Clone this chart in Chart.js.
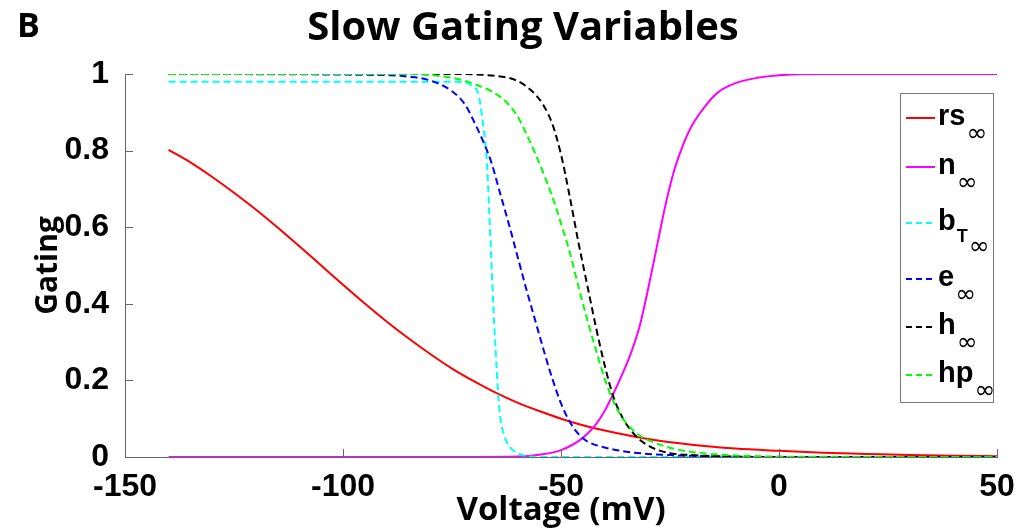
<!DOCTYPE html>
<html>
<head>
<meta charset="utf-8">
<script src="https://cdn.jsdelivr.net/npm/chart.js@4.4.1/dist/chart.umd.min.js"></script>
<style>
  html, body { margin: 0; padding: 0; background: #fff; }
  #wrap { width: 1024px; height: 531px; }
</style>
</head>
<body>
<div id="wrap"><canvas id="c" width="1024" height="531"></canvas></div>
<script>
// tick labels
var xTicks = [-150, -100, -50, 0, 50];
var yTicks = [0, 0.2, 0.4, 0.6, 0.8, 1];

// rs_inf (red, solid)
var rsV = [-140, -135, -130, -125, -120, -115, -110, -105, -100, -95, -90, -85, -80, -75, -70, -65, -60, -55, -50, -45, -40, -30, -20, -10, 0, 10, 20, 30, 40, 50];
var rsG = [0.802, 0.769, 0.731, 0.69, 0.646, 0.599, 0.55, 0.5, 0.45, 0.401, 0.354, 0.31, 0.269, 0.231, 0.198, 0.168, 0.142, 0.12, 0.1, 0.083, 0.069, 0.047, 0.032, 0.022, 0.016, 0.011, 0.008, 0.005, 0.003, 0.002];

// n_inf (magenta, solid)
var nV = [-140, -70, -60, -55, -50, -45, -42, -40, -38, -36, -34, -32, -30, -28, -26, -24, -22, -20, -17, -14, -10, -5, 0, 10, 50];
var nG = [0, 0, 0.001, 0.006, 0.018, 0.05, 0.085, 0.12, 0.165, 0.215, 0.27, 0.34, 0.44, 0.55, 0.66, 0.75, 0.815, 0.865, 0.915, 0.952, 0.976, 0.99, 0.997, 1, 1];

// bT_inf (cyan, dashed)
var bV = [-140, -75, -72, -70, -69, -68, -67, -66.5, -66, -65.5, -65, -64.5, -64, -63, -62, -61, -60, -58, -55, 50];
var bG = [0.98, 0.98, 0.978, 0.965, 0.95, 0.88, 0.77, 0.65, 0.52, 0.39, 0.28, 0.18, 0.11, 0.055, 0.03, 0.018, 0.01, 0.003, 0, 0];

// e_inf (blue, dashed)
var eV = [-140, -90, -85, -80, -75, -72, -70, -68, -66, -64, -62, -60, -58, -56, -54, -52, -50, -48, -46, -44, -40, -35, -30, -25, -20, -10, 0, 50];
var eG = [1, 0.997, 0.993, 0.983, 0.955, 0.92, 0.877, 0.828, 0.77, 0.69, 0.61, 0.525, 0.44, 0.36, 0.28, 0.205, 0.14, 0.092, 0.06, 0.041, 0.025, 0.014, 0.008, 0.005, 0.003, 0.001, 0, 0];

// h_inf (black, dashed)
var hV = [-140, -72, -68, -65, -62, -60, -58, -56, -54, -52, -50, -48, -46, -44, -42, -40, -38, -36, -34, -32, -30, -28, -25, -20, -10, 0, 50];
var hG = [1, 1, 0.998, 0.995, 0.99, 0.982, 0.968, 0.948, 0.918, 0.87, 0.79, 0.68, 0.56, 0.45, 0.34, 0.24, 0.158, 0.105, 0.07, 0.046, 0.03, 0.019, 0.01, 0.005, 0.001, 0, 0];

// hp_inf (green, dashed)
var hpV = [-140, -85, -80, -75, -72, -69, -66, -63, -60, -58, -56, -54, -52, -50, -48, -46, -44, -42, -40, -38, -36, -34, -32, -30, -28, -25, -20, -15, -10, 0, 50];
var hpG = [1, 1, 0.997, 0.99, 0.982, 0.97, 0.955, 0.932, 0.89, 0.845, 0.795, 0.74, 0.68, 0.61, 0.535, 0.445, 0.36, 0.28, 0.205, 0.145, 0.103, 0.076, 0.056, 0.044, 0.035, 0.024, 0.013, 0.007, 0.004, 0.001, 0];

var names = ['rs', 'n', 'b', 'e', 'h', 'hp'];
var subs = ['', '', 'T', '', '', ''];
var colors = ['#ff0000', '#ff00ff', '#00ffff', '#0000ff', '#000000', '#00ff00'];
var dashed = [false, false, true, true, true, true];

var volts = [rsV, nV, bV, eV, hV, hpV];
var gates = [rsG, nG, bG, eG, hG, hpG];

function pts(v, g) {
    return v.map(function (x, i) { return { x: x, y: g[i] }; });
}

var datasets = names.map(function (nm, i) {
    return {
        label: nm,
        data: pts(volts[i], gates[i]),
        borderColor: colors[i],
        borderWidth: 2,
        borderDash: dashed[i] ? [7, 4] : [],
        pointRadius: 0,
        fill: false,
        cubicInterpolationMode: 'monotone',
        order: names.length - i
    };
});

var tickFont = { family: 'Liberation Sans', size: 32, weight: 'bold' };

// inward ticks, the "B" panel letter, title and the legend box
var decor = {
    id: 'decor',
    afterDraw: function (chart) {
        var ctx = chart.ctx;
        var a = chart.chartArea;
        var xs = chart.scales.x, ys = chart.scales.y;
        ctx.save();
        ctx.strokeStyle = '#666';
        ctx.lineWidth = 1;
        ctx.beginPath();
        xTicks.forEach(function (t) {
            var px = Math.round(xs.getPixelForValue(t)) + 0.5;
            ctx.moveTo(px, a.bottom);
            ctx.lineTo(px, a.bottom - 8);
        });
        yTicks.forEach(function (t) {
            var py = Math.round(ys.getPixelForValue(t)) + 0.5;
            ctx.moveTo(a.left, py);
            ctx.lineTo(a.left + 8, py);
        });
        ctx.stroke();

        ctx.fillStyle = '#000';
        ctx.textBaseline = 'alphabetic';
        ctx.textAlign = 'left';
        ctx.font = 'bold 34px "Open Sans"';
        ctx.fillText('B', 17, 37);

        ctx.textAlign = 'center';
        ctx.font = 'bold 40px "Open Sans"';
        ctx.fillText('Slow Gating Variables', 523, 40);

        // legend
        var bx = 900, by = 93, bw = 93, bh = 309;
        ctx.fillStyle = '#fff';
        ctx.fillRect(bx, by, bw, bh);
        ctx.strokeStyle = '#777';
        ctx.lineWidth = 1;
        ctx.strokeRect(bx + 0.5, by + 0.5, bw, bh);

        var rowY = [118, 167, 223, 279, 327, 375];
        names.forEach(function (nm, i) {
            var y = rowY[i];
            ctx.strokeStyle = colors[i];
            ctx.lineWidth = 2;
            ctx.setLineDash(dashed[i] ? [6, 4] : []);
            ctx.beginPath();
            ctx.moveTo(906, y);
            ctx.lineTo(935, y);
            ctx.stroke();
            ctx.setLineDash([]);

            ctx.fillStyle = '#000';
            ctx.textAlign = 'left';
            ctx.font = 'bold 29px "Liberation Sans"';
            ctx.fillText(nm, 938, y + 7);
            var w = ctx.measureText(nm).width;
            var sx = 938 + w + 1;
            var sy = y + 23;
            if (subs[i]) {
                ctx.font = 'bold 18px "Liberation Sans"';
                ctx.fillText(subs[i], sx, y + 19);
                sx += ctx.measureText(subs[i]).width + 1;
                sy = y + 31;
            }
            ctx.font = '25px "DejaVu Sans"';
            ctx.fillText('\u221e', sx, sy);
        });
        ctx.restore();
    }
};

new Chart(document.getElementById('c').getContext('2d'), {
    type: 'line',
    data: { datasets: datasets },
    options: {
        responsive: false,
        animation: false,
        layout: { padding: { left: 0, right: 27, top: 74, bottom: 0 } },
        plugins: {
            legend: { display: false },
            tooltip: { enabled: false }
        },
        scales: {
            x: {
                type: 'linear',
                min: -150,
                max: 50,
                afterFit: function (s) { s.height = 74; },
                afterBuildTicks: function (s) {
                    s.ticks = xTicks.map(function (v) { return { value: v }; });
                },
                grid: { display: false },
                border: { display: true, color: '#666', width: 1 },
                ticks: {
                    color: '#000', font: tickFont, padding: 3, maxRotation: 0,
                    callback: function (v) { return String(v); }
                },
                title: {
                    display: true,
                    text: 'Voltage (mV)',
                    color: '#000',
                    font: { family: 'Open Sans', size: 33, weight: 'bold' },
                    padding: { top: 0, bottom: 1 }
                }
            },
            y: {
                type: 'linear',
                min: 0,
                max: 1,
                afterFit: function (s) { s.width = 125; },
                afterBuildTicks: function (s) {
                    s.ticks = yTicks.map(function (v) { return { value: v }; });
                },
                grid: { display: false },
                border: { display: true, color: '#666', width: 1 },
                ticks: {
                    color: '#000', font: tickFont, padding: 8,
                    callback: function (v) { return String(v); }
                },
                title: {
                    display: true,
                    text: 'Gating',
                    color: '#000',
                    font: { family: 'Open Sans', size: 30, weight: 'bold' },
                    padding: { top: 30, bottom: 0 }
                }
            }
        }
    },
    plugins: [decor]
});
</script>
</body>
</html>
